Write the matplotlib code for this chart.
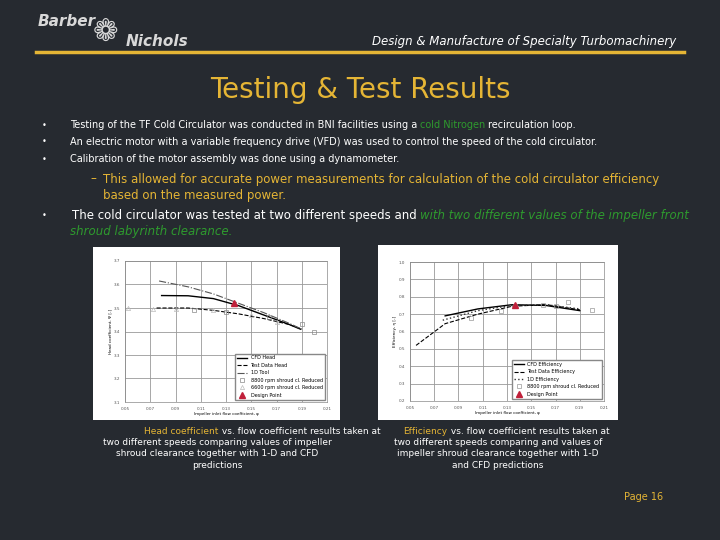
import matplotlib.pyplot as plt
from matplotlib.lines import Line2D

# Datos: coeficiente de altura
phi_cfd_h = [0.079, 0.10, 0.12, 0.14, 0.16, 0.18, 0.189]
psi_cfd_h = [3.553, 3.552, 3.54, 3.51, 3.47, 3.43, 3.41]
phi_1d_h = [0.077, 0.10, 0.12, 0.14, 0.16, 0.18, 0.19]
psi_1d_h = [3.615, 3.59, 3.56, 3.52, 3.48, 3.435, 3.41]
phi_test_h = [0.075, 0.10, 0.12, 0.14, 0.16, 0.18, 0.19]
psi_test_h = [3.50, 3.50, 3.49, 3.475, 3.455, 3.43, 3.41]
phi_red_h = [0.105, 0.13, 0.164, 0.19, 0.20]
psi_red_h = [3.49, 3.485, 3.46, 3.43, 3.40]
phi_low_h = [0.052, 0.072, 0.09, 0.12, 0.15, 0.17]
psi_low_h = [3.50, 3.495, 3.495, 3.49, 3.47, 3.44]
design_h = (0.136, 3.52)

# Datos: eficiencia
phi_cfd_e = [0.079, 0.106, 0.134, 0.162, 0.19]
eta_cfd_e = [0.69, 0.73, 0.754, 0.75, 0.72]
phi_test_e = [0.055, 0.079, 0.106, 0.134, 0.162, 0.19]
eta_test_e = [0.52, 0.645, 0.70, 0.745, 0.755, 0.725]
phi_1d_e = [0.077, 0.106, 0.134, 0.162, 0.19]
eta_1d_e = [0.665, 0.72, 0.75, 0.754, 0.73]
phi_pts_e = [0.10, 0.125, 0.137, 0.16, 0.17, 0.18, 0.20]
eta_pts_e = [0.68, 0.72, 0.745, 0.755, 0.745, 0.77, 0.725]
design_e = (0.137, 0.75)

x_ticks = [0.05, 0.07, 0.09, 0.11, 0.13, 0.15, 0.17, 0.19, 0.21]

BG = '#262a30'
GOLD = '#e5b535'
GREEN = '#2e9a2e'

fig = plt.figure(figsize=(7.2, 5.4), dpi=100, facecolor=BG)

def fx(px):
    return px / 720
def fy(py):
    return 1 - py / 540

# Cabecera
fig.text(fx(38), fy(22), 'Barber', color='#d8d8d8', fontsize=11, style='italic', fontweight='bold', va='center')
fig.text(fx(126), fy(41), 'Nichols', color='#d8d8d8', fontsize=11, style='italic', fontweight='bold', va='center')
fig.text(fx(105), fy(32), '\u2741', color='#d8d8d8', fontsize=22, va='center', ha='center')
fig.text(fx(676), fy(41), 'Design & Manufacture of Specialty Turbomachinery', color='white',
         fontsize=8.5, style='italic', ha='right', va='center')
fig.add_artist(Line2D([fx(36), fx(684)], [fy(52), fy(52)], color=GOLD, lw=2.5))

fig.text(0.5, fy(90), 'Testing & Test Results', color=GOLD, fontsize=20, ha='center', va='center')

bullets = [
    (125, 'Testing of the TF Cold Circulator was conducted in BNI facilities using a '),
    (142, 'An electric motor with a variable frequency drive (VFD) was used to control the speed of the cold circulator.'),
    (159, 'Calibration of the motor assembly was done using a dynamometer.'),
]
txts = []
for y, s in bullets:
    fig.text(fx(42), fy(y), '\u2022', color='white', fontsize=6, va='center')
    txts.append(fig.text(fx(70), fy(y), s, color='white', fontsize=7, va='center'))
fig.canvas.draw()
bb = txts[0].get_window_extent()
t1 = fig.text(bb.x1 / 720, fy(125), 'cold Nitrogen', color=GREEN, fontsize=7, va='center')
fig.canvas.draw()
bb1 = t1.get_window_extent()
fig.text(bb1.x1 / 720 + 0.003, fy(125), 'recirculation loop.', color='white', fontsize=7, va='center')

fig.text(fx(90), fy(179), '\u2013', color=GOLD, fontsize=8.5, va='center')
fig.text(fx(103), fy(179), 'This allowed for accurate power measurements for calculation of the cold circulator efficiency',
         color=GOLD, fontsize=8.5, va='center')
fig.text(fx(103), fy(196), 'based on the measured power.', color=GOLD, fontsize=8.5, va='center')

fig.text(fx(42), fy(215), '\u2022', color='white', fontsize=6, va='center')
t2 = fig.text(fx(72), fy(215), 'The cold circulator was tested at two different speeds and ', color='white',
              fontsize=8.5, va='center')
fig.canvas.draw()
bb2 = t2.get_window_extent()
fig.text(bb2.x1 / 720, fy(215), 'with two different values of the impeller front', color=GREEN,
         fontsize=8.5, style='italic', va='center')
fig.text(fx(70), fy(232), 'shroud labyrinth clearance.', color=GREEN, fontsize=8.5, style='italic', va='center')

# Fondos blancos de las figuras
for x0, y0, x1, y1 in [(93, 247, 340, 420), (378, 245, 618, 420)]:
    fig.add_artist(plt.Rectangle((fx(x0), fy(y1)), fx(x1 - x0), (y1 - y0) / 540,
                                 facecolor='white', edgecolor='none', transform=fig.transFigure,
                                 zorder=-5))

def style(ax):
    ax.grid(True, color='#999999', lw=0.6)
    ax.tick_params(labelsize=3, length=0, colors='#555555')
    for s in ax.spines.values():
        s.set_color('#888888')
        s.set_linewidth(0.5)

# Gráfica de altura
ax1 = fig.add_axes([fx(125), fy(402), fx(327 - 125), (402 - 261) / 540])
ax1.plot(phi_cfd_h, psi_cfd_h, 'k-', lw=1, label='CFD Head')
ax1.plot(phi_test_h, psi_test_h, 'k--', lw=0.8, label='Test Data Head')
ax1.plot(phi_1d_h, psi_1d_h, '-.', color='#555555', lw=0.8, label='1D Tool')
ax1.plot(phi_red_h, psi_red_h, 's', mfc='none', mec='#888888', ms=3, mew=0.5, label='8800 rpm shroud cl. Reduced')
ax1.plot(phi_low_h, psi_low_h, '^', mfc='none', mec='#bbbbbb', ms=3, mew=0.5, label='6600 rpm shroud cl. Reduced')
ax1.plot(*design_h, '^', color='#c0203a', ms=4, label='Design Point')
ax1.set_xlim(0.05, 0.21)
ax1.set_ylim(3.1, 3.7)
ax1.set_xticks(x_ticks)
ax1.set_yticks([3.1, 3.2, 3.3, 3.4, 3.5, 3.6, 3.7])
ax1.set_xlabel('Impeller inlet flow coefficient, \u03c6', fontsize=3, labelpad=1)
ax1.set_ylabel('Head coefficient, \u03a8 [-]', fontsize=3, labelpad=1)
style(ax1)
ax1.legend(loc='lower right', fontsize=3.5, framealpha=1, edgecolor='#888888', fancybox=False)

# Gráfica de eficiencia
ax2 = fig.add_axes([fx(410), fy(401), fx(604 - 410), (401 - 262) / 540])
ax2.plot(phi_cfd_e, eta_cfd_e, 'k-', lw=1, label='CFD Efficiency')
ax2.plot(phi_test_e, eta_test_e, 'k--', lw=0.8, label='Test Data Efficiency')
ax2.plot(phi_1d_e, eta_1d_e, ':', color='#333333', lw=1, label='1D Efficiency')
ax2.plot(phi_pts_e, eta_pts_e, 's', mfc='none', mec='#999999', ms=3, mew=0.5, label='8800 rpm shroud cl. Reduced')
ax2.plot(*design_e, '^', color='#c0203a', ms=4, label='Design Point')
ax2.set_xlim(0.05, 0.21)
ax2.set_ylim(0.2, 1.0)
ax2.set_xticks(x_ticks)
ax2.set_yticks([0.2, 0.3, 0.4, 0.5, 0.6, 0.7, 0.8, 0.9, 1.0])
ax2.set_xlabel('Impeller inlet flow coefficient, \u03c6', fontsize=3, labelpad=1)
ax2.set_ylabel('Efficiency, \u03b7 [-]', fontsize=3, labelpad=1)
style(ax2)
ax2.legend(loc='lower right', fontsize=3.5, framealpha=1, edgecolor='#888888', fancybox=False)

# Pies de figura
fig.text(fx(218), fy(431), 'Head coefficient', color=GOLD, fontsize=6.5, ha='right', va='center')
fig.text(fx(219), fy(431), ' vs. flow coefficient results taken at', color='white', fontsize=6.5, ha='left', va='center')
fig.text(fx(217), fy(438), 'two different speeds comparing values of impeller\nshroud clearance together with 1-D and CFD\npredictions',
         color='white', fontsize=6.5, ha='center', va='top', linespacing=1.35)
fig.text(fx(447), fy(431), 'Efficiency', color=GOLD, fontsize=6.5, ha='right', va='center')
fig.text(fx(448), fy(431), ' vs. flow coefficient results taken at', color='white', fontsize=6.5, ha='left', va='center')
fig.text(fx(498), fy(438), 'two different speeds comparing and values of\nimpeller shroud clearance together with 1-D\nand CFD predictions',
         color='white', fontsize=6.5, ha='center', va='top', linespacing=1.35)

fig.text(fx(663), fy(497), 'Page 16', color=GOLD, fontsize=7, ha='right', va='center')

plt.savefig('out.png', dpi=100, facecolor=BG)
